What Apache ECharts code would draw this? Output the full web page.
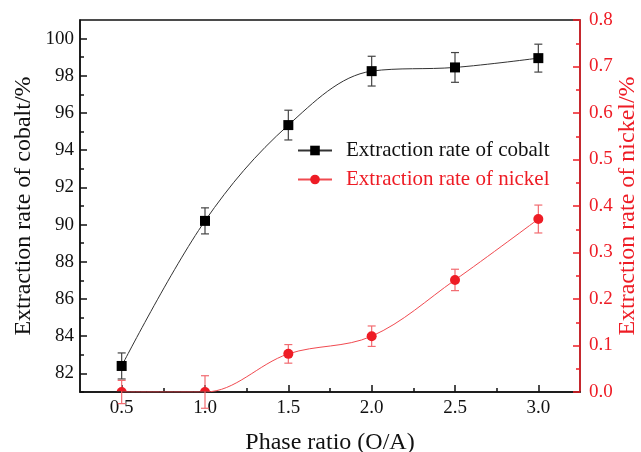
<!DOCTYPE html>
<html>
<head>
<meta charset="utf-8">
<script src="https://cdn.jsdelivr.net/npm/echarts@6/dist/echarts.min.js"></script>
<style>
  html, body { margin: 0; padding: 0; background: #fff; }
  #chart { width: 641px; height: 452px; }
</style>
</head>
<body>
<div id="chart"></div>
<script>
// Phase ratio (O/A) on the x axis
const phaseRatio = [0.5, 1.0, 1.5, 2.0, 2.5, 3.0];
// Cobalt extraction (%) and its error
const cobaltRate = [82.4, 90.2, 95.35, 98.25, 98.45, 98.95];
const cobaltErr = [0.7, 0.7, 0.8, 0.8, 0.8, 0.75];
// Nickel extraction (%) and its error
const nickelRate = [0, 0, 0.082, 0.12, 0.241, 0.372];
const nickelErr = [0.025, 0.035, 0.02, 0.022, 0.023, 0.03];

// Tick positions
const xMajor = [0.5, 1.0, 1.5, 2.0, 2.5, 3.0];
const xMinor = [0.75, 1.25, 1.75, 2.25, 2.75];
const yLeftMajor = [82, 84, 86, 88, 90, 92, 94, 96, 98, 100];
const yLeftMinor = [81, 83, 85, 87, 89, 91, 93, 95, 97, 99];

const RED = '#ee1c25';
const FONT = '"Liberation Serif", "Times New Roman", serif';

const chart = echarts.init(document.getElementById('chart'), null, { renderer: 'canvas' });

function errorBars(values, errs, color, yAxisIndex) {
  return {
    type: 'custom',
    xAxisIndex: 0,
    yAxisIndex: yAxisIndex,
    z: 3,
    silent: true,
    data: values.map((v, i) => [phaseRatio[i], v - errs[i], v + errs[i]]),
    renderItem: function (params, api) {
      const lo = api.coord([api.value(0), api.value(1)]);
      const hi = api.coord([api.value(0), api.value(2)]);
      const hw = 4;
      const style = { stroke: color, lineWidth: 1.2, fill: null };
      return {
        type: 'group',
        children: [
          { type: 'line', shape: { x1: lo[0], y1: lo[1], x2: hi[0], y2: hi[1] }, style: style },
          { type: 'line', shape: { x1: lo[0] - hw, y1: lo[1], x2: lo[0] + hw, y2: lo[1] }, style: style },
          { type: 'line', shape: { x1: hi[0] - hw, y1: hi[1], x2: hi[0] + hw, y2: hi[1] }, style: style }
        ]
      };
    }
  };
}

// Nickel markers, clipped to the plot area so points on the baseline show as half discs
const nickelMarkers = {
  type: 'custom',
  xAxisIndex: 0,
  yAxisIndex: 1,
  z: 5,
  clip: false,
  silent: true,
  data: phaseRatio.map((x, i) => [x, nickelRate[i]]),
  renderItem: function (params, api) {
    const p = api.coord([api.value(0), api.value(1)]);
    const cs = params.coordSys;
    return {
      type: 'group',
      clipPath: { type: 'rect', shape: { x: cs.x, y: cs.y, width: cs.width, height: cs.height - 0.75 } },
      children: [
        { type: 'circle', shape: { cx: p[0], cy: p[1], r: 5 }, style: { fill: RED } }
      ]
    };
  }
};

const labelStyle = { fontFamily: FONT, fontSize: 19, color: '#111' };

const option = {
  backgroundColor: '#fff',
  animation: false,
  grid: {
    left: 80, right: 61, top: 20, bottom: 60,
    outerBoundsMode: 'none',
    containLabel: false,
    show: true, borderColor: '#111', borderWidth: 1.5, backgroundColor: 'transparent'
  },
  legend: {
    orient: 'vertical',
    left: 297,
    top: 140,
    padding: 0,
    itemWidth: 34,
    itemHeight: 12,
    itemGap: 8,
    textStyle: { fontFamily: FONT, fontSize: 21, padding: [0, 0, 0, 9] },
    data: [
      { name: 'Extraction rate of cobalt', textStyle: { color: '#111' } },
      { name: 'Extraction rate of nickel', textStyle: { color: RED } }
    ]
  },
  xAxis: [
    {
      type: 'value', min: 0.25, max: 3.25,
      name: 'Phase ratio (O/A)', nameLocation: 'middle', nameGap: 39, nameMoveOverlap: false,
      nameTextStyle: { fontFamily: FONT, fontSize: 24, color: '#111' },
      axisLine: { show: true, onZero: false, lineStyle: { color: '#111', width: 1.5 } },
      axisTick: { show: true, inside: true, length: 7, customValues: xMajor, lineStyle: { color: '#111', width: 1.5 } },
      axisLabel: { customValues: xMajor, margin: 7, formatter: v => v.toFixed(1), ...labelStyle },
      splitLine: { show: false }
    },
    {
      type: 'value', min: 0.25, max: 3.25, position: 'bottom',
      axisLine: { show: false },
      axisTick: { show: true, inside: true, length: 4, customValues: xMinor, lineStyle: { color: '#111', width: 1.5 } },
      axisLabel: { show: false },
      splitLine: { show: false }
    }
  ],
  yAxis: [
    {
      type: 'value', min: 81, max: 101, position: 'left',
      name: 'Extraction rate of cobalt/%', nameLocation: 'middle', nameGap: 44, nameRotate: 90, nameMoveOverlap: false,
      nameTextStyle: { fontFamily: FONT, fontSize: 24, color: '#111' },
      axisLine: { show: true, lineStyle: { color: '#111', width: 1.5 } },
      axisTick: { show: true, inside: true, length: 7, customValues: yLeftMajor, lineStyle: { color: '#111', width: 1.5 } },
      axisLabel: { customValues: yLeftMajor, margin: 6, ...labelStyle },
      splitLine: { show: false }
    },
    {
      type: 'value', min: 0, max: 0.8, interval: 0.1, position: 'right',
      name: 'Extraction rate of nickel/%', nameLocation: 'middle', nameGap: 36, nameRotate: 90, nameMoveOverlap: false,
      nameTextStyle: { fontFamily: FONT, fontSize: 24, color: RED },
      axisLine: { show: true, lineStyle: { color: RED, width: 1.5 } },
      axisTick: { show: true, inside: true, length: 7, lineStyle: { color: RED, width: 1.5 } },
      minorTick: { show: true, splitNumber: 2, length: 4, lineStyle: { color: RED, width: 1.5 } },
      axisLabel: { margin: 9, formatter: v => v.toFixed(1), fontFamily: FONT, fontSize: 19, color: RED },
      splitLine: { show: false },
      minorSplitLine: { show: false }
    },
    {
      type: 'value', min: 81, max: 101, position: 'left',
      axisLine: { show: false },
      axisTick: { show: true, inside: true, length: 4, customValues: yLeftMinor, lineStyle: { color: '#111', width: 1.5 } },
      axisLabel: { show: false },
      splitLine: { show: false }
    }
  ],
  series: [
    errorBars(cobaltRate, cobaltErr, '#444', 0),
    errorBars(nickelRate, nickelErr, '#f26b70', 1),
    {
      name: 'Extraction rate of cobalt',
      type: 'line',
      xAxisIndex: 0, yAxisIndex: 0,
      smooth: 0.35,
      symbol: 'rect', symbolSize: 10,
      z: 4,
      itemStyle: { color: '#000' },
      lineStyle: { color: '#333', width: 1 },
      data: phaseRatio.map((x, i) => [x, cobaltRate[i]])
    },
    {
      name: 'Extraction rate of nickel',
      type: 'line',
      xAxisIndex: 0, yAxisIndex: 1,
      smooth: 0.35,
      symbol: 'circle', symbolSize: 10,
      z: 4,
      itemStyle: { color: RED },
      lineStyle: { color: '#f04a50', width: 1 },
      data: phaseRatio.map((x, i) => ({ value: [x, nickelRate[i]], symbol: 'none' }))
    },
    nickelMarkers
  ]
};

chart.setOption(option);
</script>
</body>
</html>
